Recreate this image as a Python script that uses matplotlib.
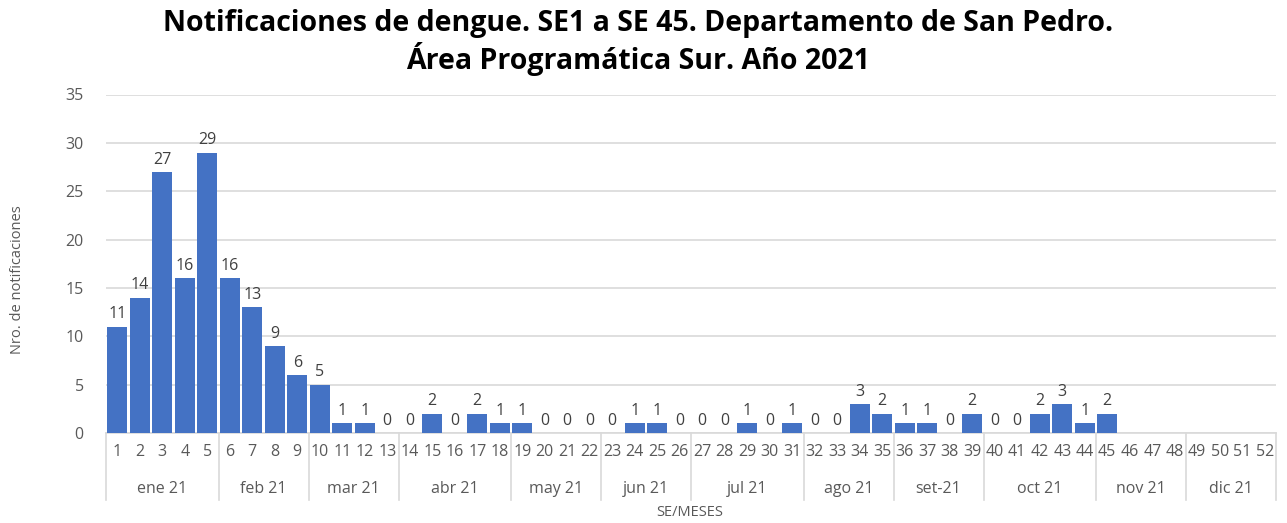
import matplotlib
matplotlib.use("Agg")
import matplotlib.pyplot as plt
import matplotlib.transforms as mtransforms
import numpy as np

plt.rcParams['font.family'] = ['Open Sans', 'DejaVu Sans']

# semanas epidemiologicas y notificaciones (SE1 a SE45)
semanas = [str(i) for i in range(1, 53)]
notificaciones = [11, 14, 27, 16, 29, 16, 13, 9, 6, 5, 1, 1, 0, 0, 2, 0, 2, 1, 1, 0,
                  0, 0, 0, 1, 1, 0, 0, 0, 1, 0, 1, 0, 0, 3, 2, 1, 1, 0, 2, 0,
                  0, 2, 3, 1, 2]
meses = ["ene 21", "feb 21", "mar 21", "abr 21", "may 21", "jun 21",
         "jul 21", "ago 21", "set-21", "oct 21", "nov 21", "dic 21"]
semanas_por_mes = [5, 4, 4, 5, 4, 4, 5, 4, 4, 5, 4, 4]

azul = "#4472C4"
gris = "#595959"
linea = "#d9d9d9"

fig = plt.figure(figsize=(12.87, 5.23), dpi=100)
ax = fig.add_axes([106/1287, 1-433/523, (1276-106)/1287, (433-94.5)/523])

x = np.arange(len(notificaciones))
bars = ax.bar(x, notificaciones, width=0.91, color=azul, zorder=3)
ax.bar_label(bars, padding=3, fontsize=11.5, color="#404040")

ax.set_xlim(-0.5, len(semanas) - 0.5)
ax.set_ylim(0, 35)
ax.set_yticks(np.arange(0, 36, 5))
ax.set_xticks(np.arange(len(semanas)))
ax.set_xticklabels(semanas)
ax.tick_params(axis="both", length=0, labelsize=11.5, labelcolor=gris)
ax.tick_params(axis="x", pad=8)
ax.tick_params(axis="y", pad=16)
ax.grid(axis="y", color=linea, linewidth=1.2, zorder=0)
for s in ["top", "right", "left"]:
    ax.spines[s].set_visible(False)
ax.spines["bottom"].set_color(linea)
ax.spines["bottom"].set_linewidth(1.2)

# meses debajo de las semanas
trans = mtransforms.blended_transform_factory(ax.transData, ax.transAxes)
limites = np.concatenate([[0], np.cumsum(semanas_por_mes)]) - 0.5
for b in limites:
    ax.plot([b, b], [0, -0.197], transform=trans, color=linea, lw=1.2, clip_on=False)
for i, m in enumerate(meses):
    centro = (limites[i] + limites[i+1]) / 2
    ax.text(centro, -0.166, m, transform=trans, ha="center", va="center",
            fontsize=11.5, color=gris)

fig.text(690/1287, 1-513/523, "SE/MESES", ha="center", va="center", fontsize=10.5, color=gris)
fig.text(18/1287, 1-280/523, "Nro. de notificaciones", rotation=90, ha="center", va="center",
         fontsize=10.5, color=gris)

fig.text(638/1287, 1-24/523, "Notificaciones de dengue. SE1 a SE 45. Departamento de San Pedro.",
         ha="center", va="center", fontsize=20.5, fontweight="bold", color="black")
fig.text(638/1287, 1-59/523, "Área Programática Sur. Año 2021",
         ha="center", va="center", fontsize=20.5, fontweight="bold", color="black")

fig.savefig("out.png", dpi=100)
